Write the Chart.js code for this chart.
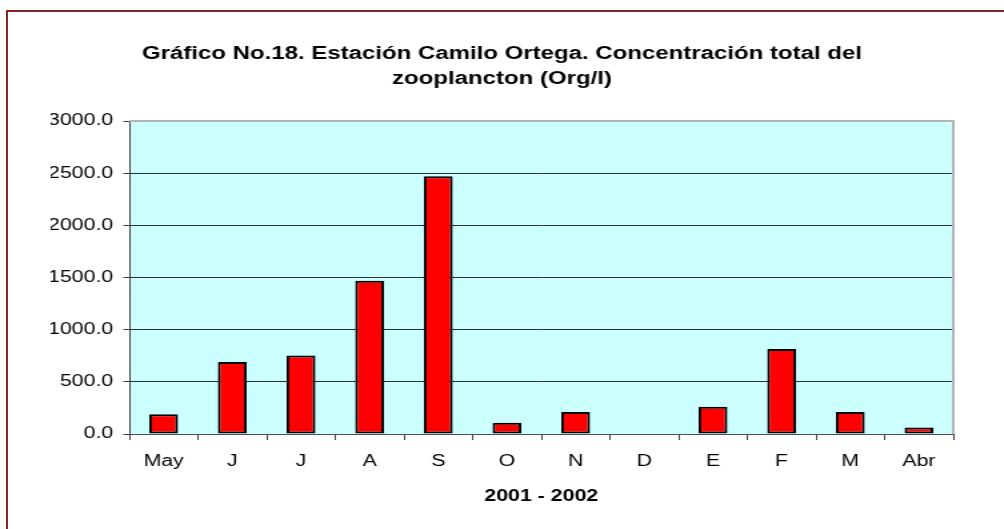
<!DOCTYPE html>
<html>
<head>
<meta charset="utf-8">
<script src="https://cdn.jsdelivr.net/npm/chart.js@4"></script>
<style>
  html, body { margin: 0; padding: 0; background: #fff; overflow: hidden; }
  #frame {
    position: absolute; left: 6px; top: 10px; width: 1100px; height: 600px;
    border: 2px solid #8b2525;
  }
  #chart { position: absolute; left: 0; top: 0; }
</style>
</head>
<body>
<div id="frame"></div>
<!-- the original picture is stretched sideways, so draw narrow and stretch with css -->
<canvas id="chart" width="753" height="529" style="width:1004px;height:529px"></canvas>
<script>
// data
var meses = ["May", "J", "J", "A", "S", "O", "N", "D", "E", "F", "M", "Abr"];
var zooplancton = [190, 689, 752, 1468, 2470, 108, 211, 0, 261, 814, 211, 63];
var yTicks = [0, 500, 1000, 1500, 2000, 2500, 3000];

var tituloLineas = ["Gráfico No.18. Estación Camilo Ortega. Concentración total del", "zooplancton (Org/l)"];
var tituloX = "2001 - 2002";

var fuente = "'Liberation Sans', Arial, sans-serif";

// plot area fill and grey border like excel
var plotArea = {
    id: "plotArea",
    beforeDraw: function(chart) {
        var a = chart.chartArea;
        var ctx = chart.ctx;
        ctx.save();
        ctx.fillStyle = "#ccffff";
        ctx.fillRect(a.left, a.top, a.right - a.left, a.bottom - a.top);
        ctx.restore();
    },
    beforeDatasetsDraw: function(chart) {
        var a = chart.chartArea;
        var ctx = chart.ctx;
        ctx.save();
        ctx.strokeStyle = "#b4b4b4";
        ctx.lineWidth = 2;
        ctx.beginPath();
        ctx.moveTo(a.left, a.top);
        ctx.lineTo(a.right, a.top);
        ctx.lineTo(a.right, a.bottom);
        ctx.stroke();
        ctx.restore();
    }
};

var ctx = document.getElementById("chart").getContext("2d");
var grafico = new Chart(ctx, {
    type: "bar",
    data: {
        labels: meses,
        datasets: [{
            label: "Org/l",
            data: zooplancton,
            backgroundColor: "#ff0000",
            borderColor: "#000000",
            borderWidth: 2,
            borderSkipped: false,
            barPercentage: 0.42,
            categoryPercentage: 1.0
        }]
    },
    options: {
        responsive: false,
        animation: false,
        devicePixelRatio: 1,
        // same padding both sides so the title sits in the middle of the page
        layout: {
            padding: { left: 38, right: 38, top: 0, bottom: 0 }
        },
        plugins: {
            legend: { display: false },
            tooltip: { enabled: false },
            title: {
                display: true,
                text: tituloLineas,
                color: "#000",
                font: { family: fuente, size: 18, weight: "bold", lineHeight: "25px" },
                padding: { top: 42, bottom: 29 }
            }
        },
        scales: {
            x: {
                afterFit: function(s) { s.height = 95; },
                grid: {
                    display: true,
                    offset: true,
                    drawOnChartArea: false,
                    drawTicks: true,
                    tickLength: 6,
                    tickColor: "#404040",
                    color: "#404040"
                },
                border: { display: true, color: "#505050", width: 1 },
                ticks: {
                    color: "#000",
                    padding: 12,
                    maxRotation: 0,
                    font: { family: fuente, size: 16 }
                },
                title: {
                    display: true,
                    text: tituloX,
                    color: "#000",
                    font: { family: fuente, size: 16, weight: "bold" },
                    padding: { top: 0, bottom: 23 }
                }
            },
            y: {
                min: 0,
                max: 3000,
                afterFit: function(s) { s.width = 59; },
                afterBuildTicks: function(s) {
                    s.ticks = yTicks.map(function(v) { return { value: v }; });
                },
                grid: {
                    color: "#303030",
                    lineWidth: 1,
                    drawTicks: true,
                    tickLength: 4.5,
                    tickColor: "#404040"
                },
                border: { display: true, color: "#404040", width: 1 },
                ticks: {
                    color: "#000",
                    padding: 7.5,
                    font: { family: fuente, size: 16 },
                    callback: function(v) { return Number(v).toFixed(1); }
                }
            }
        }
    },
    plugins: [plotArea]
});
</script>
</body>
</html>
